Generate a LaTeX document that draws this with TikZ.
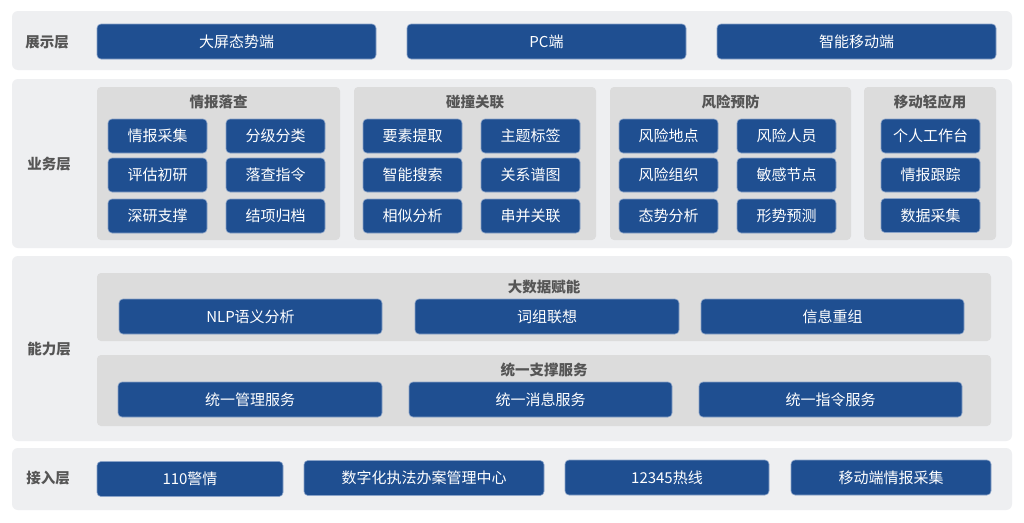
\documentclass[tikz,border=0pt]{standalone}
\usepackage{fontspec}
\setmainfont{Noto Sans CJK SC}
\usepackage{xcolor}
\usepackage{tikz}
\usetikzlibrary{positioning}
\definecolor{bandgray}{HTML}{EEEFF1}
\definecolor{grpgray}{HTML}{DCDCDC}
\definecolor{boxblue}{HTML}{1F4F91}
\definecolor{boxedge}{HTML}{8AA3C8}
\definecolor{labgray}{HTML}{555555}
\tikzset{
  layer/.style={fill=bandgray, rounded corners=6pt, inner sep=0pt, minimum width=1000pt},
  grp/.style={fill=grpgray, rounded corners=4pt, inner sep=0pt},
  blk/.style={fill=boxblue, draw=boxedge, line width=0.6pt, rounded corners=4pt, inner sep=0pt,
    text=white, font=\fontsize{15}{15}\selectfont, minimum height=35pt},
  cell/.style={blk, minimum width=99pt, minimum height=34pt},
  lab/.style={text=labgray, font=\fontsize{14.5}{15}\selectfont\bfseries, inner sep=1pt},
  ttl/.style={text=labgray, font=\fontsize{14.5}{15}\selectfont\bfseries, inner sep=1pt}
}
\begin{document}
\begin{tikzpicture}[x=1pt, y=-1pt]
\useasboundingbox (0,0) rectangle (1024,522);
\fill[white] (0,0) rectangle (1024,522);

% layers
\node[layer, minimum height=59pt] (zsc) at (512,40.5) {};
\node[layer, minimum height=169pt] (ywc) at (512,163.5) {};
\node[layer, minimum height=185pt] (nlc) at (512,348.5) {};
\node[layer, minimum height=62pt] (jrc) at (512,479) {};
\node[lab] (zsclab) at (47,42) {展示层};
\node[lab] (ywclab) at (49,164) {业务层};
\node[lab] (nlclab) at (49,349) {能力层};
\node[lab] (jrclab) at (48,478) {接入层};

% 展示层
\node[blk, minimum width=279pt] (dpts) at (236.5,41.5) {大屏态势端};
\node[blk, minimum width=279pt] (pcd) at (546.5,41.5) {PC端};
\node[blk, minimum width=279pt] (znyd) at (856.5,41.5) {智能移动端};

% 业务层
\node[grp, minimum width=243pt, minimum height=153pt] (qblc) at (218.5,163.5) {};
\node[grp, minimum width=242pt, minimum height=153pt] (pzgl) at (475,163.5) {};
\node[grp, minimum width=241pt, minimum height=153pt] (fxyf) at (730.5,163.5) {};
\node[grp, minimum width=132pt, minimum height=153pt] (ydqyy) at (930,163.5) {};
\node[ttl] (qblct) at (218.5,102) {情报落查};
\node[ttl] (pzglt) at (475,102) {碰撞关联};
\node[ttl] (fxyft) at (730.5,102) {风险预防};
\node[ttl] (ydqyyt) at (930,102) {移动轻应用};

\node[cell] (qbcj) at (157.5,136) {情报采集};
\node[cell] (fjfl) at (275.5,136) {分级分类};
\node[cell] (pgcy) at (157.5,175) {评估初研};
\node[cell] (lczl) at (275.5,175) {落查指令};
\node[cell] (sycz) at (157.5,216) {深研支撑};
\node[cell] (jxgd) at (275.5,216) {结项归档};

\node[cell] (ystq) at (412.5,136) {要素提取};
\node[cell] (ztbq) at (530.5,136) {主题标签};
\node[cell] (znss) at (412.5,175) {智能搜索};
\node[cell] (gxpt) at (530.5,175) {关系谱图};
\node[cell] (xsfx) at (412.5,216) {相似分析};
\node[cell] (cbgl) at (530.5,216) {串并关联};

\node[cell] (fxdd) at (668.5,136) {风险地点};
\node[cell] (fxry) at (786.5,136) {风险人员};
\node[cell] (fxzz) at (668.5,175) {风险组织};
\node[cell] (mgjd) at (786.5,175) {敏感节点};
\node[cell] (tsfx) at (668.5,216) {态势分析};
\node[cell] (xsyc) at (786.5,216) {形势预测};

\node[cell] (grgzt) at (930.5,136) {个人工作台};
\node[cell] (qbgz) at (930.5,175) {情报跟踪};
\node[cell] (sjcj) at (930.5,215.5) {数据采集};

% 能力层
\node[grp, minimum width=894pt, minimum height=68pt] (dsjfn) at (544,307) {};
\node[grp, minimum width=894pt, minimum height=71pt] (tyzc) at (544,390.5) {};
\node[ttl] (dsjfnt) at (544,287) {大数据赋能};
\node[ttl] (tyzct) at (544,370) {统一支撑服务};

\node[blk, minimum width=263pt] (nlp) at (250.5,316.5) {NLP语义分析};
\node[blk, minimum width=264pt] (czlx) at (547,316.5) {词组联想};
\node[blk, minimum width=263pt] (xxcz) at (832.5,316.5) {信息重组};
\node[blk, minimum width=264pt] (tygl) at (250,399.5) {统一管理服务};
\node[blk, minimum width=263pt] (tyxx) at (540.5,399.5) {统一消息服务};
\node[blk, minimum width=263pt] (tyzl) at (830.5,399.5) {统一指令服务};

% 接入层
\node[blk, minimum width=186pt] (jq) at (190,479) {110警情};
\node[blk, minimum width=240pt] (szh) at (424,478) {数字化执法办案管理中心};
\node[blk, minimum width=204pt] (rx) at (667,477.5) {12345热线};
\node[blk, minimum width=200pt] (ydcj) at (891,477.5) {移动端情报采集};
\end{tikzpicture}
\end{document}
